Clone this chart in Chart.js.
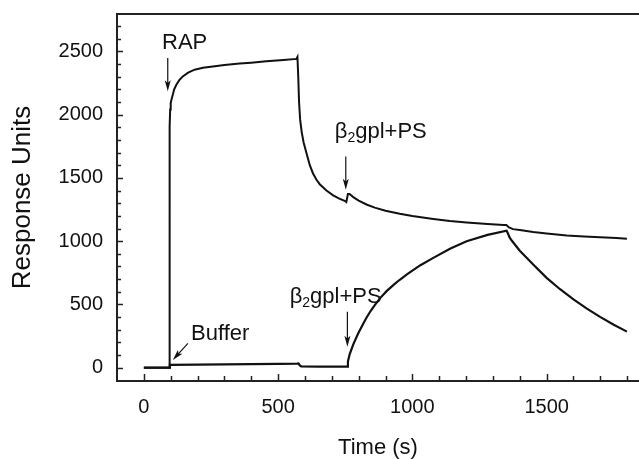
<!DOCTYPE html>
<html>
<head>
<meta charset="utf-8">
<script src="https://cdn.jsdelivr.net/npm/chart.js@4.4.1/dist/chart.umd.min.js"></script>
<style>
html, body { margin: 0; padding: 0; background: #fff; overflow: hidden; }
#wrap { width: 639px; height: 459px; position: relative; }
</style>
</head>
<body>
<div id="wrap"><canvas id="chart"></canvas></div>
<script>
// RAP injection trace (upper curve)
const rapTime = [0, 94, 96, 98, 100, 103, 106, 113, 121, 132, 145, 165, 189, 220, 257, 300, 357, 400, 456, 520, 568, 572,
    575, 578, 582, 588, 595, 605, 618, 630, 643, 655, 680, 705, 728, 750, 754, 760, 766, 780, 800, 829, 860, 900, 953,
    1000, 1078, 1140, 1202, 1280, 1340, 1350, 1360, 1375, 1400, 1450, 1500, 1575, 1640, 1699, 1760, 1799];
const rapRU = [0, 0, 1900, 2040, 2090, 2120, 2144, 2200, 2236, 2272, 2302, 2332, 2355, 2370, 2381, 2392, 2403, 2410, 2421, 2431, 2440, 2456,
    2300, 2100, 1960, 1860, 1780, 1700, 1600, 1535, 1485, 1450, 1400, 1362, 1336, 1316, 1310, 1372, 1372, 1348, 1320, 1290, 1265, 1240, 1216,
    1198, 1176, 1160, 1148, 1136, 1127, 1128, 1108, 1095, 1088, 1072, 1060, 1045, 1037, 1031, 1025, 1019];

// buffer injection trace (lower curve)
const bufTime = [0, 95, 97, 200, 300, 400, 500, 571, 576, 580, 586, 650, 700, 757, 760, 767, 780, 798, 815, 829, 845, 860,
    880, 904, 930, 953, 981, 1030, 1078, 1140, 1202, 1280, 1351, 1356, 1362, 1370, 1400, 1450, 1500, 1550, 1600, 1650,
    1699, 1750, 1799];
const bufRU = [0, 0, 22, 24, 26, 28, 31, 32, 34, 20, 10, 9, 9, 9, 50, 110, 185, 270, 340, 395, 450, 495,
    550, 605, 655, 695, 740, 810, 868, 940, 1000, 1050, 1082, 1060, 1030, 1005, 925, 815, 710, 620, 540, 467,
    402, 340, 285];

const xTickValues = [0, 500, 1000, 1500];
const yTickValues = [0, 500, 1000, 1500, 2000, 2500];

// annotations: text baseline anchor and arrow (tail -> head) in data units
const notes = [
    { text: 'RAP', at: [152, 2518], align: 'center', arrow: [[89, 2448], [89, 2184]] },
    { text: 'Buffer', at: [176, 219], align: 'left', arrow: [[164, 193], [108, 61]] },
    { text: 'β|2|gpl+PS', at: [711, 1813], align: 'left', arrow: [[752, 1669], [752, 1406]] },
    { text: 'β|2|gpl+PS', at: [543, 514], align: 'left', arrow: [[758, 443], [758, 166]] }
];

const FONT = "'Liberation Sans', Arial, sans-serif";
const INK = '#111';

function drawArrow(ctx, x1, y1, x2, y2) {
    const ang = Math.atan2(y2 - y1, x2 - x1);
    const len = 11, half = 3;
    ctx.beginPath();
    ctx.moveTo(x1, y1);
    ctx.lineTo(x2 - Math.cos(ang) * len * 0.6, y2 - Math.sin(ang) * len * 0.6);
    ctx.lineWidth = 1.2;
    ctx.stroke();
    ctx.beginPath();
    ctx.moveTo(x2, y2);
    ctx.lineTo(x2 - Math.cos(ang) * len - Math.sin(ang) * half, y2 - Math.sin(ang) * len + Math.cos(ang) * half);
    ctx.lineTo(x2 - Math.cos(ang) * len * 0.75, y2 - Math.sin(ang) * len * 0.75);
    ctx.lineTo(x2 - Math.cos(ang) * len + Math.sin(ang) * half, y2 - Math.sin(ang) * len - Math.cos(ang) * half);
    ctx.closePath();
    ctx.fill();
}

function drawNote(ctx, note, px, py) {
    const parts = note.text.split('|');
    const big = '22px ' + FONT, small = '14px ' + FONT;
    ctx.textBaseline = 'alphabetic';
    ctx.textAlign = 'left';
    const widths = parts.map((p, i) => {
        ctx.font = i === 1 ? small : big;
        return ctx.measureText(p).width;
    });
    const total = widths.reduce((a, b) => a + b, 0);
    let x = note.align === 'center' ? px - total / 2 : px;
    parts.forEach((p, i) => {
        ctx.font = i === 1 ? small : big;
        ctx.fillText(p, x, i === 1 ? py + 4 : py);
        x += widths[i];
    });
}

const framePlugin = {
    id: 'frame',
    afterDatasetsDraw(chart) {
        const { ctx, chartArea: a, scales: { x, y } } = chart;
        ctx.save();
        ctx.strokeStyle = '#222';
        ctx.fillStyle = INK;
        ctx.lineWidth = 2;
        // frame: top, left, bottom (right edge is off the picture)
        ctx.beginPath();
        ctx.moveTo(a.right, a.top);
        ctx.lineTo(a.left, a.top);
        ctx.lineTo(a.left, a.bottom);
        ctx.lineTo(a.right, a.bottom);
        ctx.stroke();
        // inward ticks
        ctx.lineWidth = 1.5;
        ctx.beginPath();
        for (let v = 0; v <= 2700; v += 100) {
            const py = Math.round(y.getPixelForValue(v)) + 0.5;
            ctx.moveTo(a.left, py);
            ctx.lineTo(a.left + (v % 500 === 0 ? 6 : 4), py);
        }
        for (let t = 0; t <= 1800; t += 100) {
            const px = Math.round(x.getPixelForValue(t)) + 0.5;
            ctx.moveTo(px, a.bottom);
            ctx.lineTo(px, a.bottom - (t % 500 === 0 ? 7 : 5));
        }
        ctx.stroke();
        // annotations
        ctx.strokeStyle = INK;
        notes.forEach(n => {
            drawNote(ctx, n, x.getPixelForValue(n.at[0]), y.getPixelForValue(n.at[1]));
            const [p, q] = n.arrow;
            drawArrow(ctx, x.getPixelForValue(p[0]), y.getPixelForValue(p[1]),
                x.getPixelForValue(q[0]), y.getPixelForValue(q[1]));
        });
        ctx.restore();
    }
};

function toPoints(ts, vs) {
    return ts.map((t, i) => ({ x: t, y: vs[i] }));
}

const ctx = document.getElementById('chart').getContext('2d');
new Chart(ctx, {
    type: 'line',
    data: {
        datasets: [
            { label: 'RAP', data: toPoints(rapTime, rapRU), borderColor: INK, borderWidth: 2, pointRadius: 0, tension: 0 },
            { label: 'Buffer', data: toPoints(bufTime, bufRU), borderColor: INK, borderWidth: 2.2, pointRadius: 0, tension: 0 }
        ]
    },
    options: {
        responsive: true,
        maintainAspectRatio: false,
        animation: false,
        layout: { padding: { top: 14, left: 0, right: 0, bottom: 0 } },
        plugins: { legend: { display: false }, tooltip: { enabled: false } },
        scales: {
            x: {
                type: 'linear',
                min: -100,
                max: 1844,
                grid: { display: false, drawTicks: false },
                border: { display: false },
                afterBuildTicks: s => { s.ticks = xTickValues.map(v => ({ value: v })); },
                afterFit: s => { s.height = 78; s.paddingLeft = 0; s.paddingRight = 0; },
                ticks: { padding: 14, color: INK, font: { family: FONT, size: 20 }, maxRotation: 0, callback: v => String(v) },
                title: { display: true, text: 'Time (s)', color: INK, font: { family: FONT, size: 22, lineHeight: 1 }, padding: { top: 0, bottom: 0 } }
            },
            y: {
                min: -105,
                max: 2795,
                grid: { display: false, drawTicks: false },
                border: { display: false },
                afterBuildTicks: s => { s.ticks = yTickValues.map(v => ({ value: v })); },
                afterFit: s => { s.width = 117; s.paddingTop = 0; s.paddingBottom = 0; },
                ticks: { padding: 14, color: INK, font: { family: FONT, size: 20 }, callback: v => String(v) },
                title: { display: true, text: 'Response Units', color: INK, font: { family: FONT, size: 26, lineHeight: 1 }, padding: { top: 10, bottom: 0 } }
            }
        }
    },
    plugins: [framePlugin]
});
</script>
</body>
</html>
